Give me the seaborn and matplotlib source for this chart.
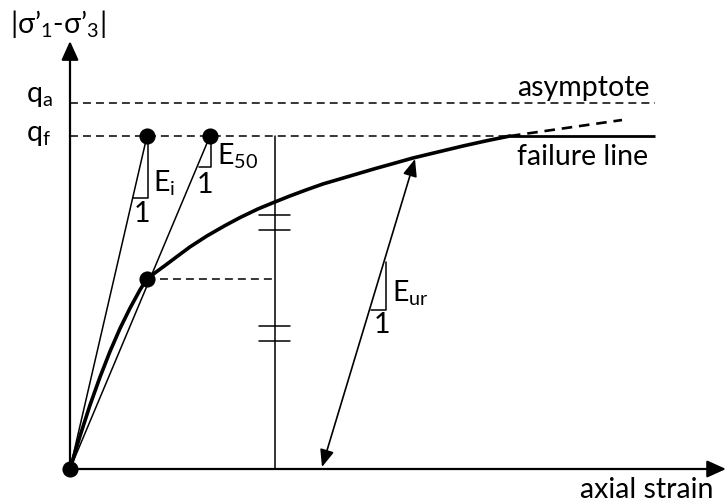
import matplotlib
matplotlib.use("Agg")
import matplotlib.pyplot as plt
import pandas as pd
import seaborn as sns

# Hyperbolic stress-strain relation (strain in arbitrary units, q normalised by q_f)
strain = [0.00, 0.10, 0.20, 0.30, 0.40, 0.50, 0.60, 0.70, 0.77, 0.85,
          0.95, 1.07, 1.20, 1.37, 1.55, 1.70, 1.88, 2.05, 2.20, 2.37,
          2.53, 2.70, 2.87, 3.05, 3.23, 3.43, 3.68, 3.93, 4.17, 4.40]
q = [0.000, 0.099, 0.192, 0.276, 0.353, 0.422, 0.483, 0.538, 0.571, 0.589,
     0.611, 0.638, 0.667, 0.700, 0.731, 0.755, 0.781, 0.802, 0.820, 0.839,
     0.856, 0.871, 0.886, 0.902, 0.917, 0.934, 0.952, 0.970, 0.986, 1.000]

q_f = 1.00          # failure deviatoric stress
q_a = 1.10          # asymptotic deviatoric stress
q_50 = 0.571        # half-failure point used for E50
eps_50 = 0.77
eps_fail = 4.40     # strain where the curve reaches q_f
eps_end = 5.85      # end of failure line / asymptote
eps_mid = 2.05      # strain of the vertical construction line

# Secant end points on the q_f line
ei_top = (0.77, q_f)
e50_top = (1.40, q_f)

# Extension of the hyperbola beyond failure
ext_strain = [4.40, 5.52]
ext_q = [1.000, 1.048]

# Unloading / reloading path
eur_start = (2.52, 0.006)
eur_end = (3.45, 0.931)

# Equal-half tick marks on the vertical line
tick_q = [0.763, 0.718, 0.429, 0.384]

sns.set_theme(style="white")
plt.rcParams["font.family"] = ["Lato", "DejaVu Sans"]
plt.rcParams["mathtext.fontset"] = "custom"
plt.rcParams["mathtext.rm"] = "Lato"
plt.rcParams["mathtext.it"] = "Lato:italic"

fig = plt.figure(figsize=(7.26, 5.02), dpi=100)
ax = fig.add_axes([0, 0, 1, 1])
ax.set_xlim(-0.70, 6.56)
ax.set_ylim(-0.0961, 1.4114)
ax.axis("off")

K = "black"
thin = 1.1
dash = (5.2, 3.3)

# Axes with arrow heads
axis_style = dict(arrowstyle="-|>,head_length=11.5,head_width=5.2",
                  mutation_scale=1, color=K, lw=1.6, shrinkA=0, shrinkB=0)
ax.annotate("", xy=(0, 1.285), xytext=(0, 0), arrowprops=axis_style)
ax.annotate("", xy=(6.56, 0), xytext=(0, 0), arrowprops=axis_style)

# Asymptote and failure level
ax.plot([0, eps_end], [q_a, q_a], color=K, lw=thin, dashes=dash)
ax.plot([0, eps_fail], [q_f, q_f], color=K, lw=thin, dashes=dash)
ax.plot([eps_fail, eps_end], [q_f, q_f], color=K, lw=2.0, solid_capstyle="butt")
ax.plot(ext_strain, ext_q, color=K, lw=1.9, dashes=(4.0, 2.6))

# Stress-strain curve
curve = pd.DataFrame({"strain": strain, "q": q})
line = sns.lineplot(data=curve, x="strain", y="q", color=K, lw=2.6, ax=ax,
                    estimator=None, sort=False)
for ln in ax.get_lines()[-1:]:
    ln.set_solid_joinstyle("round")

# Initial and secant stiffness lines
ax.plot([0, ei_top[0]], [0, ei_top[1]], color=K, lw=thin)
ax.plot([0, e50_top[0]], [0, e50_top[1]], color=K, lw=thin)

# Half-failure construction
ax.plot([eps_50, eps_mid], [q_50, q_50], color=K, lw=thin, dashes=dash)
ax.plot([eps_mid, eps_mid], [0, q_f], color=K, lw=thin)
for tq in tick_q:
    ax.plot([1.89, 2.20], [tq, tq], color=K, lw=thin)

# Slope triangles
ax.plot([0.63, 0.78, 0.78], [0.814, 0.814, 1.0], color=K, lw=thin)
ax.plot([1.29, 1.41, 1.41], [0.907, 0.907, 1.0], color=K, lw=thin)
ax.plot([3.01, 3.16, 3.16], [0.477, 0.477, 0.622], color=K, lw=thin)

# Unloading-reloading double arrow
ax.annotate("", xy=eur_end, xytext=eur_start,
            arrowprops=dict(arrowstyle="<|-|>,head_length=10.5,head_width=4.3",
                            mutation_scale=1, color=K, lw=1.2,
                            shrinkA=0, shrinkB=0))

# Points
pts = pd.DataFrame({"strain": [0, eps_50, ei_top[0], e50_top[0]],
                    "q": [0, q_50, ei_top[1], e50_top[1]]})
sns.scatterplot(data=pts, x="strain", y="q", color=K, s=135, ax=ax,
                edgecolor=K, linewidth=0, zorder=5)

ax.set_xlabel("")
ax.set_ylabel("")

fs = 20.5
txt = dict(color=K, fontsize=fs, va="baseline")
ax.text(-0.60, 1.312, "|σ’$_\\mathrm{1}$-σ’$_\\mathrm{3}$|", ha="left", **txt)
ax.text(-0.44, 1.105, "q$_\\mathrm{a}$", ha="left", **txt)
ax.text(-0.44, 0.988, "q$_\\mathrm{f}$", ha="left", **txt)
ax.text(0.83, 0.835, "E$_\\mathrm{i}$", ha="left", **txt)
ax.text(0.72, 0.745, "1", ha="center", **txt)
ax.text(1.47, 0.916, "E$_\\mathrm{50}$", ha="left", **txt)
ax.text(1.35, 0.832, "1", ha="center", **txt)
ax.text(3.22, 0.505, "E$_\\mathrm{ur}$", ha="left", **txt)
ax.text(3.12, 0.411, "1", ha="center", **txt)
ax.text(5.80, 1.123, "asymptote", ha="right", **txt)
ax.text(5.13, 0.916, "failure line", ha="center", **txt)
ax.text(5.77, -0.084, "axial strain", ha="center", **txt)

fig.savefig("out.png", dpi=100)
